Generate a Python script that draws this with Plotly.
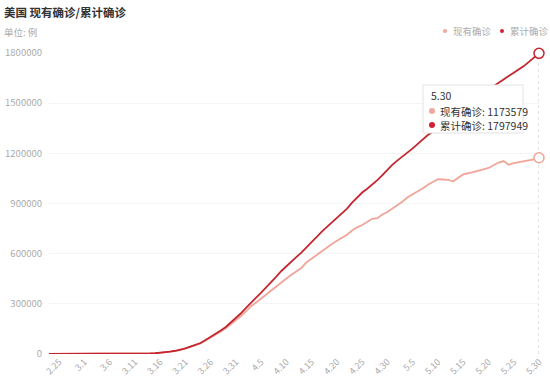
import plotly.graph_objects as go

dates = (["2.23", "2.24", "2.25", "2.26", "2.27", "2.28", "2.29"]
         + [f"3.{d}" for d in range(1, 32)]
         + [f"4.{d}" for d in range(1, 31)]
         + [f"5.{d}" for d in range(1, 31)])

cumulative = [
    53, 53, 59, 60, 62, 68, 75,
    100, 124, 158, 221, 319, 435, 541, 704, 994, 1301,
    1697, 2247, 2943, 3680, 4663, 6411, 9259, 13789, 19383, 24207,
    33566, 43847, 53740, 65778, 83836, 101657, 121465, 140909, 161831, 188172,
    213242,
    243622, 275367, 308650, 336802, 366317, 397121, 428654, 462780, 496535, 526396,
    555313, 580619, 607670, 636350, 667592, 699706, 732197, 759086, 784326, 811865,
    840351, 869170, 905358, 938154, 965785, 988197, 1012582, 1039909, 1069424, 1103461,
    1132539, 1158040, 1180375, 1204351, 1229331, 1257023, 1283929, 1309550, 1329260, 1347881,
    1369376, 1390406, 1417774, 1442824, 1467820, 1486757, 1508308, 1528568, 1551853, 1577147,
    1600937, 1622670, 1643246, 1662302, 1681212, 1699933, 1721750, 1747087, 1770384, 1797949,
]

active = [
    46, 46, 51, 52, 54, 59, 66,
    89, 110, 141, 199, 292, 402, 501, 657, 937, 1230,
    1610, 2140, 2810, 3520, 4470, 6160, 8930, 13340, 18790, 23420,
    32500, 42470, 51960, 63430, 80830, 97620, 116270, 134300, 153200, 177100,
    199700,
    227300, 255400, 285900, 308400, 333200, 357500, 381600, 402500, 428300, 451800,
    474300, 493600, 515900, 548700, 571300, 593400, 617500, 638200, 657600, 676800,
    694300, 713500, 738200, 757600, 771400, 790600, 808300, 812600, 833900, 849200,
    868400, 890700, 912300, 936800, 955300, 972600, 991800, 1012400, 1029700, 1045300,
    1043600, 1041200, 1032800, 1052400, 1074100, 1080900, 1087300, 1096200, 1104100, 1112600,
    1127400, 1144800, 1153900, 1131700, 1141600, 1146200, 1150800, 1156400, 1164200, 1173579,
]

tick_labels = ["2.25", "3.1", "3.6", "3.11", "3.16", "3.21", "3.26", "3.31", "4.5", "4.10",
               "4.15", "4.20", "4.25", "4.30", "5.5", "5.10", "5.15", "5.20", "5.25", "5.30"]
y_ticks = [0, 300000, 600000, 900000, 1200000, 1500000, 1800000]

names = ["现有确诊", "累计确诊"]
c_active = "#f0a598"
c_cum = "#c4262f"
dot_active = "#f2a59c"
dot_cum = "#d2203a"
FONT = "Noto Sans CJK SC, Noto Sans, sans-serif"

# pixel -> paper helpers (plot area: x 49..539, y 53..354)
L, R, T, B = 49, 539, 53, 354
def PX(px):
    return (px - L) / (R - L)
def PY(py):
    return (B - py) / (B - T)

fig = go.Figure()
fig.add_trace(go.Scatter(x=dates, y=active, mode="lines", name=names[0],
                         line=dict(color=c_active, width=1.8), showlegend=False))
fig.add_trace(go.Scatter(x=dates, y=cumulative, mode="lines", name=names[1],
                         line=dict(color=c_cum, width=1.8), showlegend=False))
fig.add_trace(go.Scatter(x=[dates[-1]], y=[active[-1]], mode="markers", showlegend=False,
                         marker=dict(size=10, color="white", line=dict(color=c_active, width=1.5)),
                         cliponaxis=False))
fig.add_trace(go.Scatter(x=[dates[-1]], y=[cumulative[-1]], mode="markers", showlegend=False,
                         marker=dict(size=10, color="white", line=dict(color=c_cum, width=1.5)),
                         cliponaxis=False))

# axis pointer line at last category
last_idx = len(dates) - 1
fig.add_shape(type="line", xref="x", yref="paper", x0=last_idx, x1=last_idx, y0=0, y1=1,
              line=dict(color="#c8c8c8", width=1, dash="dot"), layer="below")

# title & unit
fig.add_annotation(text="<b>美国 现有确诊/累计确诊</b>", xref="paper", yref="paper",
                   x=PX(2), y=PY(12), xanchor="left", yanchor="middle",
                   showarrow=False, font=dict(size=11.5, color="#333333", family=FONT))
fig.add_annotation(text="单位: 例", xref="paper", yref="paper",
                   x=PX(2), y=PY(32), xanchor="left", yanchor="middle",
                   showarrow=False, font=dict(size=9.5, color="#aaaaaa", family=FONT))

# legend: small dots + text
for nm, col, dx, tx in [(names[0], dot_active, 445, 451), (names[1], dot_cum, 502, 508)]:
    fig.add_shape(type="circle", xref="paper", yref="paper",
                  x0=PX(dx - 2), x1=PX(dx + 2), y0=PY(31 + 2), y1=PY(31 - 2),
                  fillcolor=col, line=dict(width=0))
    fig.add_annotation(text=nm, xref="paper", yref="paper",
                       x=PX(tx), y=PY(31), xanchor="left", yanchor="middle",
                       showarrow=False, font=dict(size=9.5, color="#aaaaaa", family=FONT))

# tooltip box
fig.add_shape(type="rect", xref="paper", yref="paper",
              x0=PX(423), x1=PX(523), y0=PY(133), y1=PY(85),
              fillcolor="white", line=dict(color="#e2e2e2", width=1), layer="above")
fig.add_annotation(text="5.30", xref="paper", yref="paper", x=PX(429), y=PY(95),
                   xanchor="left", yanchor="middle", showarrow=False,
                   font=dict(size=10.5, color="#333333", family=FONT))
for nm, val, col, ty in [(names[0], active[-1], dot_active, 111), (names[1], cumulative[-1], dot_cum, 125)]:
    fig.add_shape(type="circle", xref="paper", yref="paper",
                  x0=PX(429), x1=PX(435), y0=PY(ty + 3), y1=PY(ty - 3),
                  fillcolor=col, line=dict(width=0), layer="above")
    fig.add_annotation(text=f"{nm}: {val}", xref="paper", yref="paper", x=PX(438), y=PY(ty),
                       xanchor="left", yanchor="middle", showarrow=False,
                       font=dict(size=10.5, color="#333333", family=FONT))

fig.update_layout(
    width=550, height=386,
    margin=dict(l=L, r=550 - R, t=T, b=386 - B),
    paper_bgcolor="white", plot_bgcolor="white",
    hovermode=False,
    font=dict(family=FONT),
    xaxis=dict(type="category", range=[0, last_idx], tickmode="array",
               tickvals=tick_labels, ticktext=tick_labels, tickangle=-45,
               tickfont=dict(size=9, color="#aaaaaa"), showgrid=False,
               showline=False, ticks="", zeroline=False, automargin=False),
    yaxis=dict(range=[0, 1800000], tickvals=y_ticks, ticktext=[str(v) for v in y_ticks],
               tickfont=dict(size=9.5, color="#aaaaaa"), gridcolor="#f4f4f4",
               zeroline=False, showline=False, ticks="", ticklabelstandoff=6,
               automargin=False),
)

fig.write_html("out.html", config={"displayModeBar": False},
               post_script="document.body.style.margin='0';document.body.style.overflow='hidden';")
